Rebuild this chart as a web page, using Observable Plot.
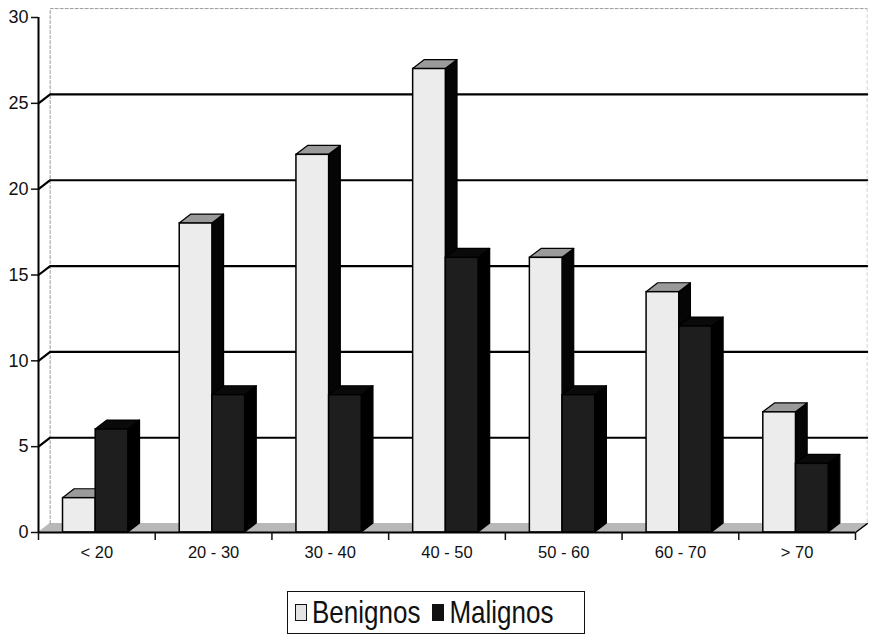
<!DOCTYPE html>
<html><head><meta charset="utf-8">
<script src="https://cdn.jsdelivr.net/npm/d3@7"></script>
<script src="https://cdn.jsdelivr.net/npm/@observablehq/plot@0.6"></script>
<style>
body{margin:0;background:#fff;font-family:"Liberation Sans",Arial,sans-serif;}
#chart{position:relative;width:871px;height:639px;overflow:hidden;}
#chart g[aria-label="y-axis tick label"] text{font-size:18px !important;}
#chart g[aria-label="x-axis tick label"] text{font-size:16.5px !important;}
#legend{position:absolute;left:287px;top:591px;width:298px;height:43px;box-sizing:border-box;border:1.5px solid #111;display:flex;align-items:center;font-size:26px;color:#111;padding-left:7px;}
#legend .sw{display:inline-block;width:12px;height:17px;border:1.5px solid #111;box-sizing:border-box;margin-right:5px;}
#legend .item{display:flex;align-items:center;margin-right:12px;}
#legend .lbl{display:inline-block;transform:scaleY(1.22);}
</style></head><body><div id="chart"></div><script>
const categories = ["< 20", "20 - 30", "30 - 40", "40 - 50", "50 - 60", "60 - 70", "> 70"];
const seriesNames = ["Benignos", "Malignos"];
const benignos = [2, 18, 22, 27, 16, 14, 7];
const malignos = [6, 8, 8, 16, 8, 12, 4];
const yTicks = [0, 5, 10, 15, 20, 25, 30];

// 3D depth (data units) and bar slots within each category
const DX = 0.1, DY = 0.52;
const slot = {Benignos: [0.21, 0.49], Malignos: [0.49, 0.77]};
const values = {Benignos: benignos, Malignos: malignos};
const nCat = categories.length;

function barsOf(s) {
  return categories.map((c, i) => ({id: s + i, cat: c, s, l: i + slot[s][0], r: i + slot[s][1], v: values[s][i]}));
}
function sidePts(bars) {
  return bars.flatMap(b => [{id: b.id, x: b.r, y1: 0, y2: b.v}, {id: b.id, x: b.r + DX, y1: DY, y2: b.v + DY}]);
}
function topPts(bars) {
  return bars.flatMap(b => [{id: b.id, y: b.v, x1: b.l, x2: b.r}, {id: b.id, y: b.v + DY, x1: b.l + DX, x2: b.r + DX}]);
}
const faceStyle = {
  Benignos: {front: "#ececec", top: "#9a9a9a", side: "#050505"},
  Malignos: {front: "#1e1e1e", top: "#0a0a0a", side: "#000"}
};
function barMarks(s) {
  const bars = barsOf(s), st = faceStyle[s];
  return [
    Plot.areaY(sidePts(bars), {x: "x", y1: "y1", y2: "y2", z: "id", fill: st.side, stroke: "#000", strokeWidth: 1.2}),
    Plot.areaX(topPts(bars), {y: "y", x1: "x1", x2: "x2", z: "id", fill: st.top, stroke: "#000", strokeWidth: 1.2}),
    Plot.rect(bars, {x1: "l", x2: "r", y1: 0, y2: "v", fill: st.front, stroke: "#000", strokeWidth: 1.5})
  ];
}

const gridVals = yTicks.filter(v => v > 0 && v < 30);
const gridPts = gridVals.flatMap(v => [{g: v, x: 0, y: v}, {g: v, x: DX, y: v + DY}, {g: v, x: nCat + DX, y: v + DY}]);
const yMax = yTicks[yTicks.length - 1];
const wallTop = [{x: DX, y: DY}, {x: DX, y: yMax + DY}, {x: nCat + DX, y: yMax + DY}];
const wallRight = [{x: nCat + DX, y: yMax + DY}, {x: nCat + DX, y: DY}];
const floorPts = [{y: 0, x1: 0, x2: nCat}, {y: DY, x1: DX, x2: nCat + DX}];

const chart = Plot.plot({
  width: 871, height: 570,
  marginLeft: 38, marginRight: 16, marginTop: 17, marginBottom: 38,
  x: {type: "linear", domain: [0, nCat], label: null},
  y: {domain: [0, yMax], label: null},
  style: {fontFamily: "'Liberation Sans', Arial, sans-serif", fontSize: "17px", color: "#111", background: "#fff", overflow: "visible"},
  marks: [
    Plot.areaX(floorPts, {y: "y", x1: "x1", x2: "x2", fill: "#b8b8b8"}),
    Plot.line(wallTop, {x: "x", y: "y", stroke: "#9a9a9a", strokeWidth: 1, strokeDasharray: "3,2"}),
    Plot.line(wallRight, {x: "x", y: "y", stroke: "#d4d4d4", strokeWidth: 1, strokeDasharray: "3,3"}),
    Plot.line(gridPts, {x: "x", y: "y", z: "g", stroke: "#000", strokeWidth: 2.2}),
    ...barMarks("Benignos"),
    ...barMarks("Malignos"),
    Plot.line([{x: nCat, y: 0}, {x: nCat + DX, y: DY}], {x: "x", y: "y", stroke: "#000", strokeWidth: 1.5}),
    Plot.ruleY([0], {stroke: "#000", strokeWidth: 2}),
    Plot.ruleX([0], {stroke: "#000", strokeWidth: 2}),
    Plot.axisY({ticks: yTicks, tickSize: 7, tickPadding: 3, strokeWidth: 1.5, label: null}),
    Plot.axisX({ticks: d3.range(0, nCat + 1), tickSize: 8, strokeWidth: 1.5, tickFormat: () => "", label: null}),
    Plot.axisX({ticks: categories.map((_, i) => i + 0.5), tickSize: 0, tickPadding: 14, tickFormat: d => categories[Math.floor(d)], label: null})
  ]
});
const root = document.getElementById("chart");
root.appendChild(chart);

const legend = document.createElement("div");
legend.id = "legend";
const swatchFill = {Benignos: "#e4e4e4", Malignos: "#111"};
seriesNames.forEach(s => {
  const item = document.createElement("span");
  item.className = "item";
  const sw = document.createElement("span");
  sw.className = "sw";
  sw.style.background = swatchFill[s];
  const t = document.createElement("span");
  t.className = "lbl";
  t.textContent = s;
  item.appendChild(sw); item.appendChild(t);
  legend.appendChild(item);
});
root.appendChild(legend);
</script></body></html>
